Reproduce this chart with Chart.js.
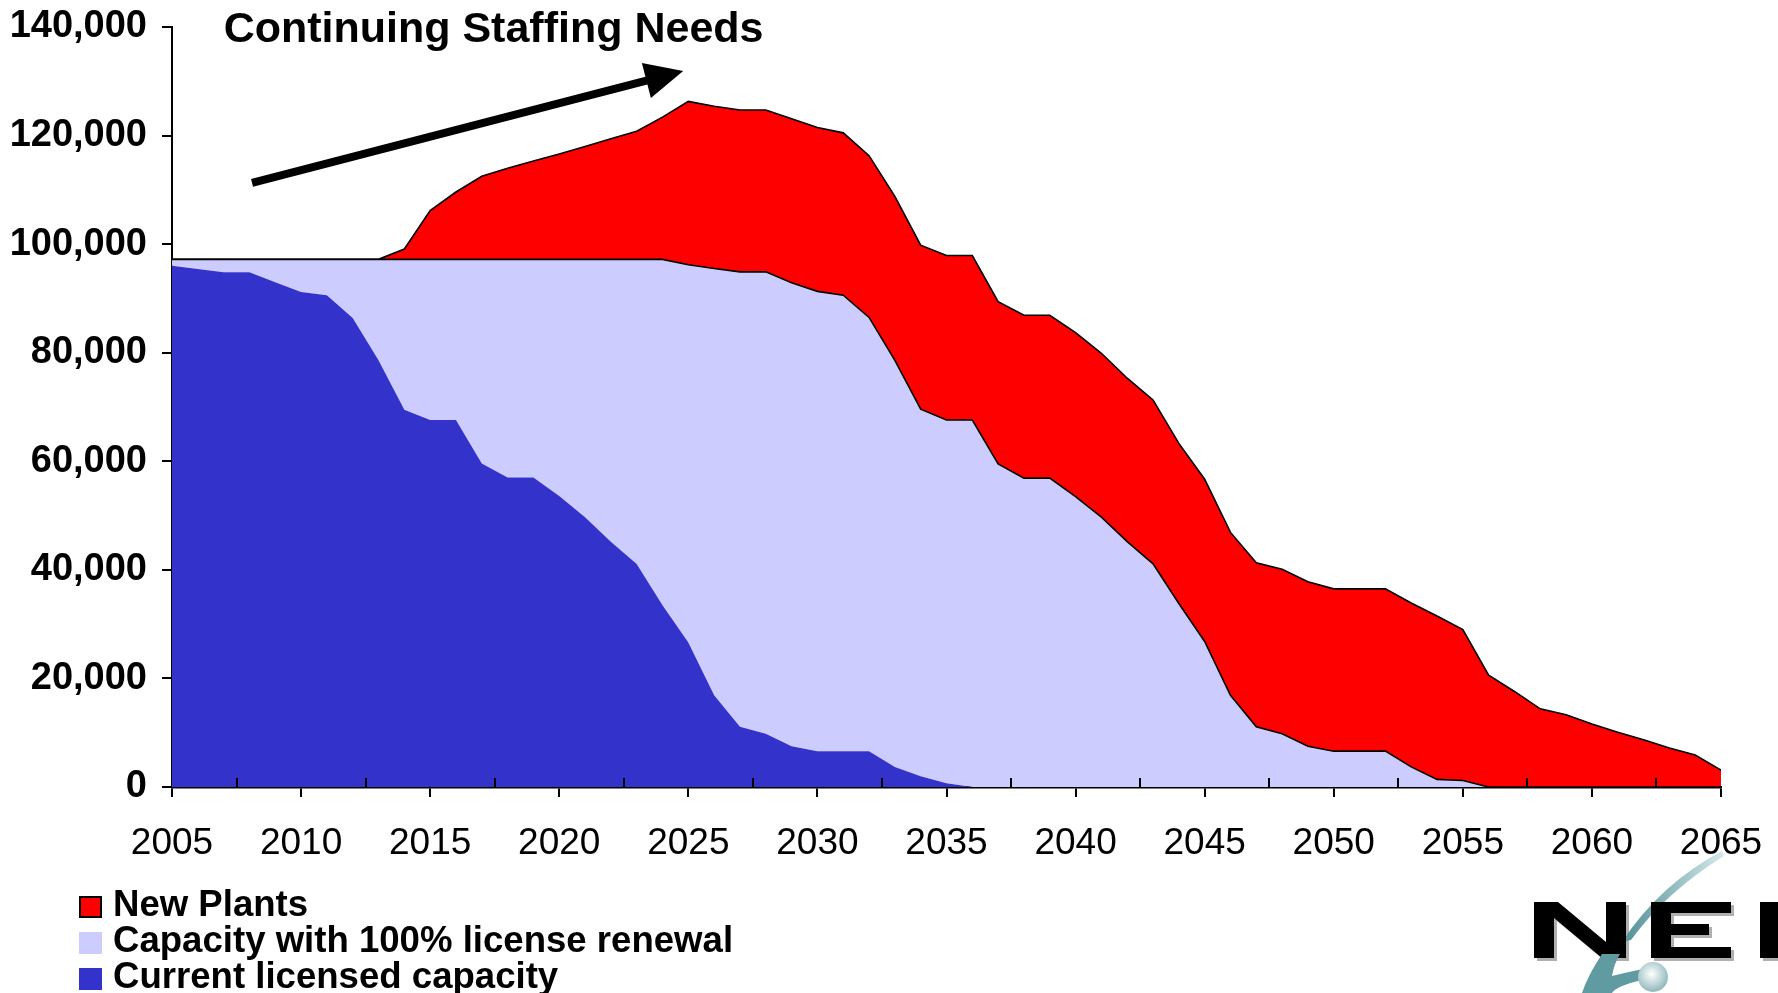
<!DOCTYPE html>
<html>
<head>
<meta charset="utf-8">
<script src="https://cdn.jsdelivr.net/npm/chart.js@4.4.1/dist/chart.umd.min.js"></script>
<style>
  html, body { margin: 0; padding: 0; background: #ffffff; }
  #wrap { position: relative; width: 1778px; height: 993px; overflow: hidden; background: #ffffff; }
  #c { position: absolute; left: 0; top: 0; }
  #legend { position: absolute; left: 0; top: 0; width: 0; height: 0; }
  .lrow { position: absolute; left: 79px; height: 36px; white-space: nowrap;
          font: bold 36.6px "Liberation Sans", Arial, sans-serif; line-height: 36px; color: #000; }
  .lbox { position: absolute; left: 0; top: 10px; width: 23px; height: 22px; box-sizing: border-box; }
  .ltxt { position: absolute; left: 34px; top: 0; }
  #logo { position: absolute; left: 0; top: 0; pointer-events: none; }
</style>
</head>
<body>
<div id="wrap">
  <canvas id="c" width="1778" height="993"></canvas>
  <div id="legend"></div>
  <svg id="logo" width="1778" height="993" xmlns="http://www.w3.org/2000/svg">
    <defs>
      <radialGradient id="ball" cx="0.45" cy="0.4" r="0.6">
        <stop offset="0" stop-color="#ffffff"/>
        <stop offset="1" stop-color="#8fb7bb"/>
      </radialGradient>
      <linearGradient id="sw" x1="0" y1="0" x2="1" y2="0">
        <stop offset="0" stop-color="#4f8f96"/>
        <stop offset="1" stop-color="#d6e9eb"/>
      </linearGradient>
    </defs>
    <g fill="#b0b0b0" transform="translate(3,3)">
      <polygon points="1534,902 1558,902 1606,942 1606,902 1626,902 1626,958 1602,958 1554,918 1554,958 1534,958"/>
      <polygon points="1651,902 1731,902 1731,913 1671,913 1671,924 1709,924 1709,935 1671,935 1671,947 1731,947 1731,958 1651,958"/>
      <rect x="1760" y="902" width="20" height="56"/>
    </g>
    <path d="M1722,851 Q1660,884 1622,942 L1631,940 Q1666,892 1724,856 Z" fill="url(#sw)"/>
    <g fill="#000000">
      <polygon points="1534,902 1558,902 1606,942 1606,902 1626,902 1626,958 1602,958 1554,918 1554,958 1534,958"/>
      <polygon points="1651,902 1731,902 1731,913 1671,913 1671,924 1709,924 1709,935 1671,935 1671,947 1731,947 1731,958 1651,958"/>
      <rect x="1760" y="902" width="20" height="56"/>
    </g>
    <path d="M1602,954 Q1588,975 1582,993 L1612,993 Q1616,986 1642,980 L1648,968 Q1628,972 1612,976 Q1614,964 1620,954 Z" fill="#5f9ba1"/>
    <circle cx="1653" cy="977" r="15" fill="url(#ball)"/>
  </svg>
</div>
<script>
// ---- data ----
const years = [2005,2006,2007,2008,2009,2010,2011,2012,2013,2014,
               2015,2016,2017,2018,2019,2020,2021,2022,2023,2024,
               2025,2026,2027,2028,2029,2030,2031,2032,2033,2034,
               2035,2036,2037,2038,2039,2040,2041,2042,2043,2044,
               2045,2046,2047,2048,2049,2050,2051,2052,2053,2054,
               2055,2056,2057,2058,2059,2060,2061,2062,2063,2064,2065];

const currentLicensed = [96000,95400,94800,94800,93000,91200,90600,86400,78600,69500,
                         67600,67600,59600,57000,57000,53600,49700,45200,41100,33500,
                         26600,16900,11100,9800,7500,6600,6600,6600,3700,2000,
                         700,0,0,0,0,0,0,0,0,0,
                         0,0,0,0,0,0,0,0,0,0,
                         0,0,0,0,0,0,0,0,0,0,0];

const licenseRenewal = [1200,1800,2400,2400,4200,6000,6600,10800,18600,27700,
                        29600,29600,37600,40200,40200,43600,47500,52000,56100,63700,
                        69600,78600,83800,85100,85400,84700,84000,79900,74900,67600,
                        66900,67600,59500,56900,56900,53500,49700,45200,41100,33800,
                        26800,16900,11100,9800,7500,6600,6600,6600,3700,1400,
                        1200,0,0,0,0,0,0,0,0,0,0];

const newPlants = [0,0,0,0,0,0,0,0,0,1900,
                   9000,12400,15300,16800,18100,19400,20800,22200,23600,26200,
                   30100,29900,29800,29800,30200,30200,29900,29800,30200,30200,
                   30300,30300,29900,30000,30000,30200,30200,30100,30200,29500,
                   29900,30000,30200,30300,30300,29900,29900,29900,30200,30100,
                   27800,20600,17600,14400,13300,11600,10100,8700,7200,5900,3100];

const seriesNames = ['Current licensed capacity', 'Capacity with 100% license renewal', 'New Plants'];
const seriesColors = ['#3333CC', '#CCCCFF', '#FF0000'];
const xTickValues = [2005,2010,2015,2020,2025,2030,2035,2040,2045,2050,2055,2060,2065];
const xMinorTicks = [2007.5,2012.5,2017.5,2022.5,2027.5,2032.5,2037.5,2042.5,2047.5,2052.5,2057.5,2062.5];
const yTickValues = [0,20000,40000,60000,80000,100000,120000,140000];
const titleText = 'Continuing Staffing Needs';
const titleAt = { x: 2007.0, y: 137200 };
const arrowFrom = { x: 2008.1, y: 111300 };
const arrowTo = { x: 2024.8, y: 131900 };

const FONT = '"Liberation Sans", Arial, sans-serif';

function pts(vals) { return years.map((yr, i) => ({ x: yr, y: vals[i] })); }

const annotations = {
  id: 'annotations',
  afterDatasetsDraw(chart) {
    const { ctx, chartArea } = chart;
    const xs = chart.scales.x, ys = chart.scales.y;
    ctx.save();
    ctx.strokeStyle = '#000';
    ctx.lineWidth = 2;
    for (const v of xMinorTicks) {
      const px = Math.round(xs.getPixelForValue(v));
      ctx.beginPath();
      ctx.moveTo(px, chartArea.bottom);
      ctx.lineTo(px, chartArea.bottom - 9);
      ctx.stroke();
    }
    const x1 = xs.getPixelForValue(arrowFrom.x), y1 = ys.getPixelForValue(arrowFrom.y);
    const x2 = xs.getPixelForValue(arrowTo.x), y2 = ys.getPixelForValue(arrowTo.y);
    const dx = x2 - x1, dy = y2 - y1, len = Math.hypot(dx, dy);
    const ux = dx / len, uy = dy / len, nx = -uy, ny = ux;
    const headLen = 38, headHalf = 18;
    const bx = x2 - ux * headLen, by = y2 - uy * headLen;
    ctx.lineWidth = 8;
    ctx.lineCap = 'butt';
    ctx.beginPath();
    ctx.moveTo(x1, y1);
    ctx.lineTo(bx + ux * 2, by + uy * 2);
    ctx.stroke();
    ctx.fillStyle = '#000';
    ctx.beginPath();
    ctx.moveTo(x2, y2);
    ctx.lineTo(bx + nx * headHalf, by + ny * headHalf);
    ctx.lineTo(bx - nx * headHalf, by - ny * headHalf);
    ctx.closePath();
    ctx.fill();
    ctx.font = 'bold 43px ' + FONT;
    ctx.textAlign = 'left';
    ctx.textBaseline = 'alphabetic';
    ctx.fillText(titleText, xs.getPixelForValue(titleAt.x), ys.getPixelForValue(titleAt.y));
    ctx.restore();
  }
};

const chart = new Chart(document.getElementById('c'), {
  type: 'line',
  data: {
    datasets: [
      { label: seriesNames[0], data: pts(currentLicensed), backgroundColor: seriesColors[0],
        borderColor: seriesColors[0], borderWidth: 0, fill: 'origin', pointRadius: 0, tension: 0 },
      { label: seriesNames[1], data: pts(licenseRenewal), backgroundColor: seriesColors[1],
        borderColor: '#000000', borderWidth: 1.6, fill: '-1', pointRadius: 0, tension: 0 },
      { label: seriesNames[2], data: pts(newPlants), backgroundColor: seriesColors[2],
        borderColor: '#000000', borderWidth: 1.6, fill: '-1', pointRadius: 0, tension: 0 }
    ]
  },
  options: {
    responsive: false,
    animation: false,
    devicePixelRatio: 1,
    layout: { padding: { left: 0, right: 57, top: 27, bottom: 0 } },
    plugins: { legend: { display: false }, tooltip: { enabled: false }, title: { display: false } },
    elements: { line: { borderJoinStyle: 'miter' } },
    scales: {
      x: {
        type: 'linear',
        min: 2005, max: 2065,
        afterBuildTicks: s => { s.ticks = xTickValues.map(v => ({ value: v })); },
        afterFit: s => { s.height = 206; s.paddingLeft = 0; s.paddingRight = 0; },
        ticks: { color: '#000', font: { family: FONT, size: 37, weight: 'normal' }, padding: 25,
                 maxRotation: 0, autoSkip: false, callback: v => String(v) },
        grid: { drawOnChartArea: false, drawTicks: true, tickLength: 10, color: '#000', lineWidth: 2 },
        border: { display: true, color: '#000', width: 2.5 }
      },
      y: {
        type: 'linear',
        stacked: true,
        min: 0, max: 140000,
        afterBuildTicks: s => { s.ticks = yTickValues.map(v => ({ value: v })); },
        afterFit: s => { s.width = 172; s.paddingTop = 0; s.paddingBottom = 0; },
        ticks: { color: '#000', font: { family: FONT, size: 38, weight: 'bold' }, padding: 15,
                 callback: v => Number(v).toLocaleString('en-US') },
        grid: { drawOnChartArea: false, drawTicks: true, tickLength: 10, color: '#000', lineWidth: 2 },
        border: { display: true, color: '#000', width: 2 }
      }
    }
  },
  plugins: [annotations]
});

const legendEl = document.getElementById('legend');
chart.data.datasets.slice().reverse().forEach((ds, i) => {
  const row = document.createElement('div');
  row.className = 'lrow';
  row.style.top = (885.5 + i * 36) + 'px';
  const box = document.createElement('span');
  box.className = 'lbox';
  box.style.background = ds.backgroundColor;
  if (ds.label === 'New Plants') box.style.border = '2px solid #000';
  const txt = document.createElement('span');
  txt.className = 'ltxt';
  txt.textContent = ds.label;
  row.appendChild(box);
  row.appendChild(txt);
  legendEl.appendChild(row);
});
</script>
</body>
</html>
